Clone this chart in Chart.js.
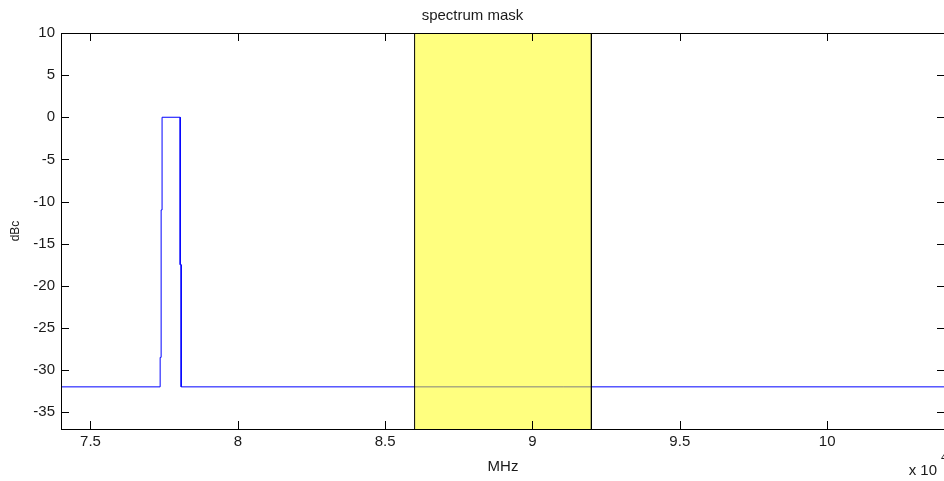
<!DOCTYPE html>
<html>
<head>
<meta charset="utf-8">
<script src="https://cdn.jsdelivr.net/npm/chart.js@4/dist/chart.umd.min.js"></script>
<style>
  html, body { margin: 0; padding: 0; background: #fff; overflow: hidden; }
  canvas { display: block; }
</style>
</head>
<body>
<canvas id="maskChart" width="948" height="481"></canvas>
<script>
  // measured spectrum (MHz vs dBc)
  const traceFreq  = [74000, 77365, 77365, 77398, 77398, 77430, 77430, 78045, 78045, 78078, 78078, 104000];
  const traceLevel = [-32,   -32,   -28.5, -28.5, -11,   -11,   0,     0,     -17.5, -17.5, -32,   -32];

  // forbidden band, drawn as a half-transparent patch over the trace
  const maskFreq  = [86000, 86000, 92000, 92000];
  const maskLevel = [-37,   10,    10,    -37];

  const xTicks = [75000, 80000, 85000, 90000, 95000, 100000];
  const yTicks = [-35, -30, -25, -20, -15, -10, -5, 0, 5, 10];

  const FONT = '"Liberation Sans", Arial, Helvetica, sans-serif';
  const INK = '#1a1a1a';

  const toPoints = (xs, ys) => xs.map((v, i) => ({ x: v, y: ys[i] }));

  // box around the axes with inward ticks on all four sides, plus the x10^4 exponent
  const matlabAxes = {
    id: 'matlabAxes',
    afterDatasetsDraw(chart) {
      const { ctx, chartArea: a, scales: { x, y } } = chart;
      const len = 8;
      ctx.save();
      ctx.strokeStyle = '#000';
      ctx.lineWidth = 1;
      ctx.beginPath();
      xTicks.forEach(v => {
        const px = Math.round(x.getPixelForValue(v)) + 0.5;
        ctx.moveTo(px, a.bottom); ctx.lineTo(px, a.bottom - len);
        ctx.moveTo(px, a.top);    ctx.lineTo(px, a.top + len);
      });
      yTicks.forEach(v => {
        const py = Math.round(y.getPixelForValue(v)) + 0.5;
        ctx.moveTo(a.left, py);  ctx.lineTo(a.left + len, py);
        ctx.moveTo(a.right, py); ctx.lineTo(a.right - len, py);
      });
      ctx.stroke();
      ctx.strokeRect(Math.round(a.left) + 0.5, Math.round(a.top) + 0.5,
                     Math.round(a.right - a.left), Math.round(a.bottom - a.top));

      ctx.fillStyle = INK;
      ctx.textBaseline = 'middle';
      ctx.font = '15px ' + FONT;
      ctx.textAlign = 'right';
      ctx.fillText('x 10', a.right - 8, 471);
      ctx.font = '11px ' + FONT;
      ctx.textAlign = 'left';
      ctx.fillText('4', a.right - 4, 458);
      ctx.restore();
    }
  };

  new Chart(document.getElementById('maskChart'), {
    type: 'line',
    data: {
      datasets: [
        {
          label: 'mask',
          data: toPoints(maskFreq, maskLevel),
          borderColor: '#000',
          borderWidth: 1,
          backgroundColor: 'rgba(255,255,0,0.5)',
          fill: 'start',
          pointRadius: 0,
          tension: 0
        },
        {
          label: 'spectrum',
          data: toPoints(traceFreq, traceLevel),
          borderColor: '#0000ff',
          borderWidth: 1,
          fill: false,
          pointRadius: 0,
          tension: 0
        }
      ]
    },
    options: {
      responsive: false,
      animation: false,
      layout: { padding: { left: 0, right: 3, top: 0, bottom: 0 } },
      plugins: {
        legend: { display: false },
        tooltip: { enabled: false },
        title: {
          display: true,
          text: 'spectrum mask',
          color: INK,
          font: { family: FONT, size: 15, weight: 'normal', lineHeight: 1.2 },
          padding: { top: 6.4, bottom: 8.6 }
        }
      },
      scales: {
        x: {
          type: 'linear',
          min: 74000,
          max: 104000,
          grid: { display: false, drawTicks: false },
          border: { display: false },
          afterBuildTicks: s => { s.ticks = xTicks.map(v => ({ value: v })); },
          afterFit: s => { s.height = 52; },
          ticks: {
            color: INK,
            padding: 3.7,
            autoSkip: false,
            maxRotation: 0,
            font: { family: FONT, size: 15, lineHeight: 1.2 },
            callback: v => String(v / 10000)
          },
          title: {
            display: true,
            text: 'MHz',
            color: INK,
            font: { family: FONT, size: 15, lineHeight: 1.2 },
            padding: { top: 0, bottom: 5.3 }
          }
        },
        y: {
          type: 'linear',
          min: -37,
          max: 10,
          grid: { display: false, drawTicks: false },
          border: { display: false },
          afterBuildTicks: s => { s.ticks = yTicks.map(v => ({ value: v })); },
          afterFit: s => { s.width = 61; },
          ticks: {
            color: INK,
            padding: 6,
            autoSkip: false,
            font: { family: FONT, size: 15, lineHeight: 1.2 },
            callback: v => String(v)
          },
          title: {
            display: true,
            text: 'dBc',
            color: INK,
            font: { family: FONT, size: 12, lineHeight: 1.2 },
            padding: { top: 8, bottom: 0 }
          }
        }
      }
    },
    plugins: [matlabAxes]
  });
</script>
</body>
</html>
